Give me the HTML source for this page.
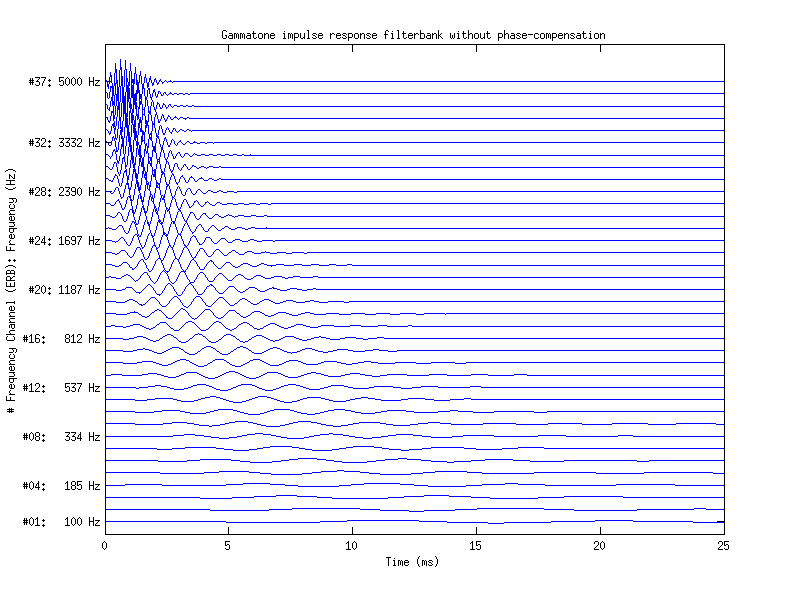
<!DOCTYPE html>
<html lang="en"><head><meta charset="utf-8"><title>Gammatone impulse response filterbank without phase-compensation</title>
<style>
html,body{margin:0;padding:0;background:#fff;overflow:hidden}
#fig{position:relative;width:800px;height:600px;background:#fff;overflow:hidden}
#fig svg{position:absolute;left:0;top:0;display:block}
.t{position:absolute;white-space:pre;font-family:"Liberation Mono",monospace;font-size:10px;line-height:13px;height:13px;color:transparent}
</style></head>
<body>
<div id="fig">
<svg width="800" height="600" viewBox="0 0 800 600" shape-rendering="crispEdges" fill="none" stroke-width="1" stroke-linecap="butt">
<g stroke="#00f"><path d="M155 78.5h1M155 79.5h1M160 79.5h1M106 80.5h1M159 80.5h2M165 80.5h1M170 80.5h1M106 81.5h1M159 81.5h1M161 81.5h1M164 81.5h1M166 81.5h1M168 81.5h4M173 81.5h551M158 82.5h1M162 82.5h2M167 82.5h1M172 82.5h1M157 83.5h2M162 83.5h1M157 84.5h1M111 86.5h1M111 87.5h1M148 88.5h1M148 89.5h1M159 91.5h1M106 92.5h1M160 92.5h1M164 92.5h2M170 92.5h1M160 93.5h1M163 93.5h1M165 93.5h1M169 93.5h3M174 93.5h3M179 93.5h4M185 93.5h3M190 93.5h534M161 94.5h1M163 94.5h1M166 94.5h1M168 94.5h1M172 94.5h2M177 94.5h2M183 94.5h2M188 94.5h2M161 95.5h2M167 95.5h1M156 96.5h1M156 97.5h1M108 98.5h1M152 100.5h1M152 101.5h1M158 103.5h1M163 103.5h1M106 104.5h1M163 104.5h2M169 104.5h2M165 105.5h1M168 105.5h1M170 105.5h1M174 105.5h3M180 105.5h3M186 105.5h2M192 105.5h2M137 106.5h1M165 106.5h1M168 106.5h1M171 106.5h1M173 106.5h1M177 106.5h3M183 106.5h3M188 106.5h4M194 106.5h530M160 107.5h1M166 107.5h2M172 107.5h1M160 108.5h2M166 108.5h1M108 109.5h1M143 109.5h1M112 111.5h1M112 112.5h1M143 114.5h1M162 114.5h1M162 115.5h1M168 115.5h1M168 116.5h2M175 116.5h1M106 117.5h1M167 117.5h1M170 117.5h1M174 117.5h3M180 117.5h3M187 117.5h2M164 118.5h1M167 118.5h1M170 118.5h1M173 118.5h1M177 118.5h1M179 118.5h1M183 118.5h4M189 118.5h535M160 119.5h1M164 119.5h1M166 119.5h1M171 119.5h2M178 119.5h1M185 119.5h1M108 120.5h1M160 120.5h1M165 120.5h2M108 121.5h2M159 121.5h1M165 121.5h1M109 122.5h1M159 122.5h1M153 123.5h1M112 124.5h1M153 124.5h1M112 125.5h1M160 125.5h1M167 127.5h1M166 128.5h1M168 128.5h1M173 128.5h2M106 129.5h1M166 129.5h1M168 129.5h1M173 129.5h1M175 129.5h1M180 129.5h2M187 129.5h2M107 130.5h1M169 130.5h1M172 130.5h1M175 130.5h1M179 130.5h1M182 130.5h2M186 130.5h1M189 130.5h2M192 130.5h532M108 131.5h1M169 131.5h1M172 131.5h1M176 131.5h1M178 131.5h1M184 131.5h2M191 131.5h1M108 132.5h1M170 132.5h2M177 132.5h1M109 133.5h1M150 133.5h1M163 133.5h2M171 133.5h1M109 134.5h1M150 134.5h1M163 134.5h2M113 136.5h1M113 137.5h1M165 137.5h1M116 138.5h1M165 138.5h1M116 139.5h1M172 139.5h1M143 140.5h1M173 140.5h1M180 140.5h1M106 141.5h1M179 141.5h2M187 141.5h2M194 141.5h1M107 142.5h1M178 142.5h1M181 142.5h1M186 142.5h1M189 142.5h1M193 142.5h4M200 142.5h5M207 142.5h6M214 142.5h510M108 143.5h1M170 143.5h1M177 143.5h1M182 143.5h1M185 143.5h1M190 143.5h3M197 143.5h3M205 143.5h2M213 143.5h1M108 144.5h1M170 144.5h1M175 144.5h1M177 144.5h1M183 144.5h2M109 145.5h2M168 145.5h2M176 145.5h1M168 146.5h2M114 149.5h1M113 150.5h2M117 150.5h1M170 150.5h1M113 151.5h1M117 151.5h1M169 151.5h1M169 152.5h1M178 152.5h2M177 153.5h1M179 153.5h1M185 153.5h3M194 153.5h1M106 154.5h2M172 154.5h1M176 154.5h1M180 154.5h1M184 154.5h1M188 154.5h1M193 154.5h1M195 154.5h2M201 154.5h4M209 154.5h4M217 154.5h4M225 154.5h4M233 154.5h4M242 154.5h2M250 154.5h1M108 155.5h1M172 155.5h1M176 155.5h1M180 155.5h1M184 155.5h1M189 155.5h1M192 155.5h1M197 155.5h4M205 155.5h4M213 155.5h4M221 155.5h4M229 155.5h4M237 155.5h5M244 155.5h480M109 156.5h1M111 156.5h1M175 156.5h1M181 156.5h1M183 156.5h1M190 156.5h2M110 157.5h1M123 157.5h1M149 157.5h1M167 157.5h1M175 157.5h1M182 157.5h1M110 158.5h1M123 158.5h1M165 158.5h1M167 158.5h1M174 158.5h1M158 159.5h1M165 159.5h1M158 161.5h1M167 161.5h1M114 162.5h2M114 163.5h1M175 163.5h2M184 164.5h2M126 165.5h1M183 165.5h1M185 165.5h1M192 165.5h2M106 166.5h2M126 166.5h1M183 166.5h1M186 166.5h1M192 166.5h1M194 166.5h2M201 166.5h3M209 166.5h4M219 166.5h2M108 167.5h1M112 167.5h1M178 167.5h1M182 167.5h1M187 167.5h1M191 167.5h1M196 167.5h1M199 167.5h2M204 167.5h2M207 167.5h2M213 167.5h6M221 167.5h503M109 168.5h1M112 168.5h1M178 168.5h1M181 168.5h1M187 168.5h1M190 168.5h1M197 168.5h2M206 168.5h1M110 169.5h2M170 169.5h1M179 169.5h1M181 169.5h1M188 169.5h2M125 170.5h1M153 170.5h1M170 170.5h1M172 170.5h1M180 170.5h1M124 171.5h2M171 171.5h2M118 172.5h1M124 172.5h1M163 172.5h1M171 172.5h1M118 173.5h1M163 173.5h1M172 173.5h1M115 174.5h1M119 174.5h1M172 174.5h2M115 175.5h2M119 175.5h1M171 175.5h1M173 175.5h1M182 175.5h1M114 176.5h1M171 176.5h1M181 176.5h2M191 176.5h1M114 177.5h1M180 177.5h1M183 177.5h1M190 177.5h3M201 177.5h1M106 178.5h2M113 178.5h1M180 178.5h1M184 178.5h1M189 178.5h1M193 178.5h1M199 178.5h4M209 178.5h3M219 178.5h2M108 179.5h1M113 179.5h1M184 179.5h1M189 179.5h1M194 179.5h1M198 179.5h1M203 179.5h1M208 179.5h1M212 179.5h2M217 179.5h2M221 179.5h503M109 180.5h2M112 180.5h1M185 180.5h1M188 180.5h1M194 180.5h1M197 180.5h1M204 180.5h4M214 180.5h3M111 181.5h2M147 181.5h1M185 181.5h1M188 181.5h1M195 181.5h2M157 182.5h1M176 182.5h1M178 182.5h1M186 182.5h2M126 183.5h1M157 183.5h2M176 183.5h2M126 184.5h1M158 184.5h1M168 184.5h1M177 184.5h1M168 185.5h1M120 186.5h1M178 186.5h1M116 187.5h2M158 187.5h1M177 187.5h1M179 187.5h1M115 188.5h1M177 188.5h1M179 188.5h1M188 188.5h2M115 189.5h1M148 189.5h1M176 189.5h1M180 189.5h1M187 189.5h1M190 189.5h1M198 189.5h2M114 190.5h1M176 190.5h1M180 190.5h1M186 190.5h1M190 190.5h1M197 190.5h1M200 190.5h1M208 190.5h3M219 190.5h2M106 191.5h4M114 191.5h1M186 191.5h1M191 191.5h1M196 191.5h1M201 191.5h1M207 191.5h1M211 191.5h2M217 191.5h2M221 191.5h2M227 191.5h7M237 191.5h487M110 192.5h1M113 192.5h1M191 192.5h1M196 192.5h1M202 192.5h1M206 192.5h1M213 192.5h4M223 192.5h4M234 192.5h3M111 193.5h2M192 193.5h1M195 193.5h1M203 193.5h3M139 194.5h1M151 194.5h1M182 194.5h1M193 194.5h2M162 195.5h1M174 195.5h1M183 195.5h2M128 196.5h2M174 196.5h1M121 197.5h2M129 197.5h1M173 197.5h1M121 198.5h1M162 198.5h1M174 198.5h1M118 199.5h1M162 199.5h1M184 199.5h2M117 200.5h2M132 200.5h1M183 200.5h1M186 200.5h1M196 200.5h1M116 201.5h1M119 201.5h1M152 201.5h1M183 201.5h1M186 201.5h1M194 201.5h2M197 201.5h1M207 201.5h1M115 202.5h1M119 202.5h1M182 202.5h1M187 202.5h1M194 202.5h1M198 202.5h1M205 202.5h2M208 202.5h1M217 202.5h3M106 203.5h4M115 203.5h1M120 203.5h1M182 203.5h1M187 203.5h1M193 203.5h1M198 203.5h1M205 203.5h1M209 203.5h1M216 203.5h1M220 203.5h2M227 203.5h6M238 203.5h6M249 203.5h7M260 203.5h8M271 203.5h453M110 204.5h1M114 204.5h1M120 204.5h1M188 204.5h1M193 204.5h1M199 204.5h1M204 204.5h1M210 204.5h2M215 204.5h1M222 204.5h5M233 204.5h5M244 204.5h5M256 204.5h4M268 204.5h3M111 205.5h3M188 205.5h1M192 205.5h1M200 205.5h1M203 205.5h1M212 205.5h3M142 206.5h1M155 206.5h1M177 206.5h1M189 206.5h1M191 206.5h1M201 206.5h2M124 207.5h1M142 207.5h1M155 207.5h1M177 207.5h1M180 207.5h1M189 207.5h2M122 208.5h1M124 208.5h1M167 208.5h1M178 208.5h1M180 208.5h1M122 209.5h2M130 209.5h2M168 209.5h1M178 209.5h2M129 210.5h1M167 210.5h2M179 210.5h2M129 211.5h1M146 211.5h1M167 211.5h1M178 211.5h1M180 211.5h1M118 212.5h2M134 212.5h1M146 212.5h1M156 212.5h1M181 212.5h1M190 212.5h3M117 213.5h1M120 213.5h1M134 213.5h1M156 213.5h1M181 213.5h1M190 213.5h1M193 213.5h1M203 213.5h3M117 214.5h1M121 214.5h1M189 214.5h1M194 214.5h1M202 214.5h1M205 214.5h1M215 214.5h3M228 214.5h1M106 215.5h4M116 215.5h1M121 215.5h1M189 215.5h1M194 215.5h1M201 215.5h1M206 215.5h1M214 215.5h1M218 215.5h1M226 215.5h2M229 215.5h3M238 215.5h6M251 215.5h5M264 215.5h3M110 216.5h2M115 216.5h1M188 216.5h1M195 216.5h1M200 216.5h1M207 216.5h1M213 216.5h1M219 216.5h2M224 216.5h2M232 216.5h2M235 216.5h3M244 216.5h7M256 216.5h8M267 216.5h457M112 217.5h3M183 217.5h1M188 217.5h1M195 217.5h1M200 217.5h1M208 217.5h1M212 217.5h1M221 217.5h3M234 217.5h1M183 218.5h1M187 218.5h1M196 218.5h1M199 218.5h1M209 218.5h3M123 219.5h1M126 219.5h1M184 219.5h1M187 219.5h1M197 219.5h2M123 220.5h1M126 220.5h1M145 220.5h1M158 220.5h3M184 220.5h1M124 221.5h2M132 221.5h2M145 221.5h1M158 221.5h3M172 221.5h1M185 221.5h1M132 222.5h1M134 222.5h1M162 222.5h1M171 222.5h1M131 223.5h1M134 223.5h1M136 223.5h1M160 223.5h3M171 223.5h1M185 223.5h1M187 223.5h1M131 224.5h1M136 224.5h2M184 224.5h1M187 224.5h1M199 224.5h2M119 225.5h3M184 225.5h1M188 225.5h1M198 225.5h1M201 225.5h1M212 225.5h2M118 226.5h1M122 226.5h1M183 226.5h1M188 226.5h1M197 226.5h1M201 226.5h1M211 226.5h1M214 226.5h1M225 226.5h3M108 227.5h1M117 227.5h1M122 227.5h1M183 227.5h1M189 227.5h1M196 227.5h1M202 227.5h1M210 227.5h1M215 227.5h1M224 227.5h1M228 227.5h1M237 227.5h5M251 227.5h4M266 227.5h1M106 228.5h2M109 228.5h3M116 228.5h1M123 228.5h1M189 228.5h1M196 228.5h1M203 228.5h1M209 228.5h1M216 228.5h1M222 228.5h2M229 228.5h2M235 228.5h2M242 228.5h3M248 228.5h3M255 228.5h469M112 229.5h4M123 229.5h1M190 229.5h1M195 229.5h1M203 229.5h1M208 229.5h1M217 229.5h1M221 229.5h1M231 229.5h4M245 229.5h3M124 230.5h1M190 230.5h1M195 230.5h1M204 230.5h1M208 230.5h1M218 230.5h3M124 231.5h1M128 231.5h1M181 231.5h1M191 231.5h1M194 231.5h1M205 231.5h3M125 232.5h1M128 232.5h1M181 232.5h1M192 232.5h2M126 233.5h2M149 233.5h1M165 233.5h1M178 233.5h1M192 233.5h1M135 234.5h2M138 234.5h1M148 234.5h1M167 234.5h1M178 234.5h2M134 235.5h1M137 235.5h2M140 235.5h1M148 235.5h1M162 235.5h1M165 235.5h3M177 235.5h1M193 235.5h1M133 236.5h1M137 236.5h1M139 236.5h2M153 236.5h1M162 236.5h1M177 236.5h1M192 236.5h1M194 236.5h2M121 237.5h2M133 237.5h1M176 237.5h1M191 237.5h1M195 237.5h1M206 237.5h4M120 238.5h1M123 238.5h1M176 238.5h1M196 238.5h1M205 238.5h1M210 238.5h1M221 238.5h4M119 239.5h1M124 239.5h1M182 239.5h1M196 239.5h1M205 239.5h1M211 239.5h1M220 239.5h1M225 239.5h1M235 239.5h5M250 239.5h4M106 240.5h6M118 240.5h1M124 240.5h1M182 240.5h1M197 240.5h1M204 240.5h1M211 240.5h1M219 240.5h1M226 240.5h1M233 240.5h2M240 240.5h2M248 240.5h2M254 240.5h3M262 240.5h11M275 240.5h449M112 241.5h3M116 241.5h2M125 241.5h1M131 241.5h1M189 241.5h1M197 241.5h1M204 241.5h1M212 241.5h1M218 241.5h1M227 241.5h1M232 241.5h1M242 241.5h6M257 241.5h5M273 241.5h2M115 242.5h1M126 242.5h1M131 242.5h1M189 242.5h1M198 242.5h1M203 242.5h1M213 242.5h1M217 242.5h1M228 242.5h4M126 243.5h1M130 243.5h1M140 243.5h1M188 243.5h1M199 243.5h1M202 243.5h1M214 243.5h3M127 244.5h1M130 244.5h1M140 244.5h1M184 244.5h1M188 244.5h1M199 244.5h3M128 245.5h2M141 245.5h1M144 245.5h1M153 245.5h3M170 245.5h1M173 245.5h1M184 245.5h2M187 245.5h1M141 246.5h1M144 246.5h1M152 246.5h1M155 246.5h1M168 246.5h1M170 246.5h1M173 246.5h1M185 246.5h2M137 247.5h3M142 247.5h2M152 247.5h1M158 247.5h1M168 247.5h1M171 247.5h1M184 247.5h1M186 247.5h1M136 248.5h1M140 248.5h1M142 248.5h1M157 248.5h1M167 248.5h1M183 248.5h1M187 248.5h1M200 248.5h3M136 249.5h1M140 249.5h1M167 249.5h1M183 249.5h1M188 249.5h1M199 249.5h1M203 249.5h1M216 249.5h3M121 250.5h4M135 250.5h1M141 250.5h1M157 250.5h1M188 250.5h1M199 250.5h1M204 250.5h1M215 250.5h1M219 250.5h1M232 250.5h3M120 251.5h1M125 251.5h1M135 251.5h1M141 251.5h1M150 251.5h1M157 251.5h1M189 251.5h1M198 251.5h1M204 251.5h1M214 251.5h1M220 251.5h1M231 251.5h1M235 251.5h1M247 251.5h5M265 251.5h1M106 252.5h6M119 252.5h1M126 252.5h1M134 252.5h1M142 252.5h1M150 252.5h1M189 252.5h1M197 252.5h1M205 252.5h1M213 252.5h1M221 252.5h1M229 252.5h2M236 252.5h2M245 252.5h2M252 252.5h2M261 252.5h4M266 252.5h4M277 252.5h9M292 252.5h12M307 252.5h417M112 253.5h3M117 253.5h2M127 253.5h1M134 253.5h1M142 253.5h1M181 253.5h1M190 253.5h1M197 253.5h1M206 253.5h1M213 253.5h1M222 253.5h1M228 253.5h1M238 253.5h1M244 253.5h1M254 253.5h7M270 253.5h7M286 253.5h6M304 253.5h3M115 254.5h2M127 254.5h1M133 254.5h1M181 254.5h1M190 254.5h1M196 254.5h1M206 254.5h1M212 254.5h1M223 254.5h1M227 254.5h1M239 254.5h5M128 255.5h1M133 255.5h1M180 255.5h1M191 255.5h1M196 255.5h1M207 255.5h1M211 255.5h1M224 255.5h3M129 256.5h1M132 256.5h1M148 256.5h1M164 256.5h1M180 256.5h1M191 256.5h1M195 256.5h1M208 256.5h3M130 257.5h2M144 257.5h1M148 257.5h1M164 257.5h1M179 257.5h1M192 257.5h1M194 257.5h2M144 258.5h1M147 258.5h1M158 258.5h3M163 258.5h1M176 258.5h1M179 258.5h1M193 258.5h1M141 259.5h2M145 259.5h2M157 259.5h1M160 259.5h1M163 259.5h1M174 259.5h1M177 259.5h1M192 259.5h2M140 260.5h1M143 260.5h1M156 260.5h1M162 260.5h1M173 260.5h1M191 260.5h1M194 260.5h1M210 260.5h2M139 261.5h1M143 261.5h1M173 261.5h1M190 261.5h1M195 261.5h1M209 261.5h1M211 261.5h2M123 262.5h4M138 262.5h1M144 262.5h1M172 262.5h1M179 262.5h1M190 262.5h1M196 262.5h1M208 262.5h1M213 262.5h1M226 262.5h4M122 263.5h1M127 263.5h1M138 263.5h1M145 263.5h1M162 263.5h1M172 263.5h1M179 263.5h1M189 263.5h1M196 263.5h1M207 263.5h1M213 263.5h1M225 263.5h1M230 263.5h1M243 263.5h5M261 263.5h3M106 264.5h6M121 264.5h1M128 264.5h1M137 264.5h1M145 264.5h1M154 264.5h1M162 264.5h1M189 264.5h1M197 264.5h1M206 264.5h1M214 264.5h1M224 264.5h1M231 264.5h1M241 264.5h2M248 264.5h2M259 264.5h2M264 264.5h3M276 264.5h8M294 264.5h8M311 264.5h8M329 264.5h7M347 264.5h5M112 265.5h3M119 265.5h2M129 265.5h1M137 265.5h1M154 265.5h1M188 265.5h1M197 265.5h1M206 265.5h1M215 265.5h1M223 265.5h1M232 265.5h1M240 265.5h1M250 265.5h2M257 265.5h2M267 265.5h9M284 265.5h10M302 265.5h9M319 265.5h10M336 265.5h11M352 265.5h372M115 266.5h4M129 266.5h1M136 266.5h1M153 266.5h1M188 266.5h1M198 266.5h1M205 266.5h1M216 266.5h1M222 266.5h1M233 266.5h2M238 266.5h2M252 266.5h5M271 266.5h1M130 267.5h2M135 267.5h1M153 267.5h1M170 267.5h1M181 267.5h1M187 267.5h1M199 267.5h1M204 267.5h1M217 267.5h1M221 267.5h1M235 267.5h3M132 268.5h1M134 268.5h1M147 268.5h1M152 268.5h1M164 268.5h1M170 268.5h1M181 268.5h1M187 268.5h1M199 268.5h1M204 268.5h1M218 268.5h3M132 269.5h2M148 269.5h1M152 269.5h1M164 269.5h1M169 269.5h1M182 269.5h1M186 269.5h1M200 269.5h4M148 270.5h1M151 270.5h1M163 270.5h1M165 270.5h1M169 270.5h1M183 270.5h1M185 270.5h1M149 271.5h2M162 271.5h1M164 271.5h1M166 271.5h3M181 271.5h5M144 272.5h3M161 272.5h1M165 272.5h1M167 272.5h1M180 272.5h1M184 272.5h1M200 272.5h3M143 273.5h1M147 273.5h1M160 273.5h1M166 273.5h1M179 273.5h1M185 273.5h1M199 273.5h1M203 273.5h1M219 273.5h3M126 274.5h2M142 274.5h1M147 274.5h1M160 274.5h1M167 274.5h1M179 274.5h1M185 274.5h1M198 274.5h1M204 274.5h1M218 274.5h1M222 274.5h1M238 274.5h3M124 275.5h2M128 275.5h2M141 275.5h1M148 275.5h1M159 275.5h1M167 275.5h1M178 275.5h1M186 275.5h1M197 275.5h1M205 275.5h1M217 275.5h1M223 275.5h1M236 275.5h2M241 275.5h2M256 275.5h5M109 276.5h2M122 276.5h2M130 276.5h1M140 276.5h1M149 276.5h1M159 276.5h1M178 276.5h1M186 276.5h1M197 276.5h1M205 276.5h1M216 276.5h1M224 276.5h1M235 276.5h1M243 276.5h1M254 276.5h2M261 276.5h2M274 276.5h8M293 276.5h7M313 276.5h5M106 277.5h3M111 277.5h5M121 277.5h1M131 277.5h1M140 277.5h1M149 277.5h1M158 277.5h1M177 277.5h1M187 277.5h1M196 277.5h1M206 277.5h1M215 277.5h1M225 277.5h1M234 277.5h1M244 277.5h1M253 277.5h1M263 277.5h2M271 277.5h3M282 277.5h3M288 277.5h5M300 277.5h13M318 277.5h406M116 278.5h5M132 278.5h1M139 278.5h1M150 278.5h1M158 278.5h1M177 278.5h1M187 278.5h1M196 278.5h1M207 278.5h1M214 278.5h1M226 278.5h1M233 278.5h1M245 278.5h2M251 278.5h2M265 278.5h6M285 278.5h3M133 279.5h1M138 279.5h1M150 279.5h1M157 279.5h1M169 279.5h1M176 279.5h1M188 279.5h1M195 279.5h1M207 279.5h1M214 279.5h1M227 279.5h1M232 279.5h1M247 279.5h4M134 280.5h1M136 280.5h2M151 280.5h1M157 280.5h1M169 280.5h1M176 280.5h1M189 280.5h1M194 280.5h1M208 280.5h1M213 280.5h1M228 280.5h4M135 281.5h1M152 281.5h1M156 281.5h1M170 281.5h1M175 281.5h1M189 281.5h1M194 281.5h1M209 281.5h4M153 282.5h1M155 282.5h1M171 282.5h1M174 282.5h1M190 282.5h4M154 283.5h1M168 283.5h2M172 283.5h2M189 283.5h2M148 284.5h2M167 284.5h1M170 284.5h1M188 284.5h1M191 284.5h1M210 284.5h2M147 285.5h1M150 285.5h1M166 285.5h1M171 285.5h1M187 285.5h1M192 285.5h1M209 285.5h1M211 285.5h2M146 286.5h1M151 286.5h1M165 286.5h1M172 286.5h1M186 286.5h1M193 286.5h1M207 286.5h2M213 286.5h1M229 286.5h5M126 287.5h6M145 287.5h1M152 287.5h1M165 287.5h1M173 287.5h1M185 287.5h1M193 287.5h1M206 287.5h1M214 287.5h1M228 287.5h1M234 287.5h1M249 287.5h6M272 287.5h2M125 288.5h1M132 288.5h1M144 288.5h1M153 288.5h1M164 288.5h1M173 288.5h1M185 288.5h1M194 288.5h1M206 288.5h1M215 288.5h1M227 288.5h1M235 288.5h1M248 288.5h1M255 288.5h2M269 288.5h3M273 288.5h4M290 288.5h7M313 288.5h3M106 289.5h10M122 289.5h3M133 289.5h1M143 289.5h1M153 289.5h1M164 289.5h1M174 289.5h1M184 289.5h1M195 289.5h1M205 289.5h1M215 289.5h1M226 289.5h1M236 289.5h1M246 289.5h2M257 289.5h1M267 289.5h2M277 289.5h3M287 289.5h3M297 289.5h5M307 289.5h6M316 289.5h408M116 290.5h6M134 290.5h1M142 290.5h1M154 290.5h1M163 290.5h1M174 290.5h1M184 290.5h1M195 290.5h1M204 290.5h1M216 290.5h1M225 290.5h1M237 290.5h1M245 290.5h1M258 290.5h2M265 290.5h2M280 290.5h7M302 290.5h5M135 291.5h1M141 291.5h1M155 291.5h1M162 291.5h1M175 291.5h1M183 291.5h1M196 291.5h1M204 291.5h1M217 291.5h1M224 291.5h1M238 291.5h2M243 291.5h2M260 291.5h5M136 292.5h5M155 292.5h1M162 292.5h1M176 292.5h1M182 292.5h1M197 292.5h1M203 292.5h1M218 292.5h1M223 292.5h1M240 292.5h3M139 293.5h1M156 293.5h1M161 293.5h1M176 293.5h1M182 293.5h1M197 293.5h1M202 293.5h1M219 293.5h4M157 294.5h4M177 294.5h1M181 294.5h1M198 294.5h4M159 295.5h1M178 295.5h3M174 296.5h3M196 296.5h4M151 297.5h4M173 297.5h1M177 297.5h1M195 297.5h1M200 297.5h1M219 297.5h4M150 298.5h1M155 298.5h1M172 298.5h1M178 298.5h1M194 298.5h1M201 298.5h1M218 298.5h1M223 298.5h1M242 298.5h3M129 299.5h4M149 299.5h1M156 299.5h1M171 299.5h1M179 299.5h1M193 299.5h1M202 299.5h1M217 299.5h1M224 299.5h1M240 299.5h2M245 299.5h2M264 299.5h5M127 300.5h2M133 300.5h2M148 300.5h1M157 300.5h1M170 300.5h1M180 300.5h1M193 300.5h1M202 300.5h1M216 300.5h1M225 300.5h1M239 300.5h1M247 300.5h1M262 300.5h2M269 300.5h2M286 300.5h7M310 300.5h4M106 301.5h10M125 301.5h2M135 301.5h2M147 301.5h1M158 301.5h1M169 301.5h1M180 301.5h1M192 301.5h1M203 301.5h1M215 301.5h1M226 301.5h1M238 301.5h1M248 301.5h2M260 301.5h2M271 301.5h2M283 301.5h3M293 301.5h3M305 301.5h5M314 301.5h5M328 301.5h16M349 301.5h375M116 302.5h9M137 302.5h1M146 302.5h1M159 302.5h1M169 302.5h1M181 302.5h1M191 302.5h1M204 302.5h1M214 302.5h1M227 302.5h1M237 302.5h1M250 302.5h1M259 302.5h1M273 302.5h2M280 302.5h3M296 302.5h9M319 302.5h9M344 302.5h5M138 303.5h1M145 303.5h1M159 303.5h1M168 303.5h1M182 303.5h1M191 303.5h1M205 303.5h1M213 303.5h1M228 303.5h1M235 303.5h2M251 303.5h2M257 303.5h2M275 303.5h5M139 304.5h3M143 304.5h2M160 304.5h1M167 304.5h1M182 304.5h1M190 304.5h1M205 304.5h1M212 304.5h1M229 304.5h1M234 304.5h1M253 304.5h4M141 305.5h2M161 305.5h1M166 305.5h1M183 305.5h1M189 305.5h1M206 305.5h2M211 305.5h1M230 305.5h4M162 306.5h4M184 306.5h2M188 306.5h1M208 306.5h3M186 307.5h2M181 308.5h2M157 309.5h2M180 309.5h1M183 309.5h2M205 309.5h5M155 310.5h2M159 310.5h2M179 310.5h1M185 310.5h1M204 310.5h1M210 310.5h1M229 310.5h6M134 311.5h1M154 311.5h1M161 311.5h1M178 311.5h1M186 311.5h1M203 311.5h1M211 311.5h1M228 311.5h1M235 311.5h1M254 311.5h6M130 312.5h8M152 312.5h2M162 312.5h1M177 312.5h1M187 312.5h1M202 312.5h1M212 312.5h1M227 312.5h1M236 312.5h1M252 312.5h2M260 312.5h2M278 312.5h8M305 312.5h5M106 313.5h10M127 313.5h3M138 313.5h1M151 313.5h1M163 313.5h1M176 313.5h1M188 313.5h1M201 313.5h1M213 313.5h1M226 313.5h1M237 313.5h2M251 313.5h1M262 313.5h2M276 313.5h2M286 313.5h3M301 313.5h4M310 313.5h4M326 313.5h13M351 313.5h14M376 313.5h14M400 313.5h16M424 313.5h21M446 313.5h278M116 314.5h11M139 314.5h2M150 314.5h1M164 314.5h1M175 314.5h1M188 314.5h1M200 314.5h1M213 314.5h1M225 314.5h1M239 314.5h1M250 314.5h1M264 314.5h1M274 314.5h2M289 314.5h3M298 314.5h3M314 314.5h12M339 314.5h12M365 314.5h11M390 314.5h10M416 314.5h8M445 314.5h1M141 315.5h1M149 315.5h1M165 315.5h1M174 315.5h1M189 315.5h1M199 315.5h1M214 315.5h1M224 315.5h1M240 315.5h1M248 315.5h2M265 315.5h3M271 315.5h3M292 315.5h6M142 316.5h3M147 316.5h2M166 316.5h1M173 316.5h1M190 316.5h1M198 316.5h1M215 316.5h1M223 316.5h1M241 316.5h2M246 316.5h2M268 316.5h3M145 317.5h2M166 317.5h2M172 317.5h1M191 317.5h1M197 317.5h1M216 317.5h2M221 317.5h2M243 317.5h3M168 318.5h4M192 318.5h2M195 318.5h2M218 318.5h3M194 319.5h1M188 321.5h4M216 321.5h3M160 322.5h6M186 322.5h2M192 322.5h2M214 322.5h2M219 322.5h2M243 322.5h4M159 323.5h1M166 323.5h1M185 323.5h1M194 323.5h1M213 323.5h1M221 323.5h1M241 323.5h2M247 323.5h2M270 323.5h5M133 324.5h7M157 324.5h2M167 324.5h1M184 324.5h1M195 324.5h1M212 324.5h1M222 324.5h1M239 324.5h2M249 324.5h1M268 324.5h2M275 324.5h2M296 324.5h7M111 325.5h4M130 325.5h3M140 325.5h2M156 325.5h1M168 325.5h1M183 325.5h1M196 325.5h1M211 325.5h1M223 325.5h1M238 325.5h1M250 325.5h2M266 325.5h2M277 325.5h2M294 325.5h2M303 325.5h3M321 325.5h13M350 325.5h11M378 325.5h9M408 325.5h4M106 326.5h5M115 326.5h8M126 326.5h4M142 326.5h2M155 326.5h1M169 326.5h1M182 326.5h1M197 326.5h1M210 326.5h1M224 326.5h1M237 326.5h1M252 326.5h1M264 326.5h2M279 326.5h2M291 326.5h3M306 326.5h4M318 326.5h3M334 326.5h16M361 326.5h17M387 326.5h21M412 326.5h312M123 327.5h3M144 327.5h2M153 327.5h2M170 327.5h1M181 327.5h1M198 327.5h1M209 327.5h1M225 327.5h1M236 327.5h1M253 327.5h1M263 327.5h1M281 327.5h3M288 327.5h3M310 327.5h8M146 328.5h3M151 328.5h2M171 328.5h2M180 328.5h1M199 328.5h1M208 328.5h1M226 328.5h2M234 328.5h2M254 328.5h3M260 328.5h3M284 328.5h4M149 329.5h2M173 329.5h1M179 329.5h1M200 329.5h1M206 329.5h2M228 329.5h2M232 329.5h2M257 329.5h3M174 330.5h5M201 330.5h5M230 330.5h2M198 333.5h1M167 334.5h4M195 334.5h3M199 334.5h3M226 334.5h5M165 335.5h2M171 335.5h2M194 335.5h1M202 335.5h1M224 335.5h2M231 335.5h2M256 335.5h6M137 336.5h6M163 336.5h2M173 336.5h1M193 336.5h1M203 336.5h2M223 336.5h1M233 336.5h2M254 336.5h2M262 336.5h2M285 336.5h9M319 336.5h2M134 337.5h3M143 337.5h3M162 337.5h1M174 337.5h2M192 337.5h1M205 337.5h1M222 337.5h1M235 337.5h1M252 337.5h2M264 337.5h2M283 337.5h2M294 337.5h2M314 337.5h5M321 337.5h5M345 337.5h11M377 337.5h7M106 338.5h17M129 338.5h5M146 338.5h2M160 338.5h2M176 338.5h1M190 338.5h2M206 338.5h1M221 338.5h1M236 338.5h1M251 338.5h1M266 338.5h2M281 338.5h2M296 338.5h3M311 338.5h3M326 338.5h4M340 338.5h5M356 338.5h7M368 338.5h9M384 338.5h340M123 339.5h6M148 339.5h2M159 339.5h1M177 339.5h1M189 339.5h1M207 339.5h1M219 339.5h2M237 339.5h2M249 339.5h2M268 339.5h2M279 339.5h2M299 339.5h3M307 339.5h4M330 339.5h10M363 339.5h5M150 340.5h3M156 340.5h3M178 340.5h1M188 340.5h1M208 340.5h1M218 340.5h1M239 340.5h1M248 340.5h1M270 340.5h3M275 340.5h4M302 340.5h5M153 341.5h3M179 341.5h2M186 341.5h2M209 341.5h2M216 341.5h2M240 341.5h3M245 341.5h3M273 341.5h2M181 342.5h5M211 342.5h5M243 342.5h2M206 346.5h5M240 346.5h3M172 347.5h7M204 347.5h2M211 347.5h2M237 347.5h3M243 347.5h3M273 347.5h4M143 348.5h2M170 348.5h2M179 348.5h2M202 348.5h2M213 348.5h2M236 348.5h1M246 348.5h2M270 348.5h3M277 348.5h3M305 348.5h7M137 349.5h6M145 349.5h4M168 349.5h2M181 349.5h2M201 349.5h1M215 349.5h1M234 349.5h2M248 349.5h1M268 349.5h2M280 349.5h2M302 349.5h3M312 349.5h3M337 349.5h11M373 349.5h6M106 350.5h17M133 350.5h4M149 350.5h3M166 350.5h2M183 350.5h1M200 350.5h1M216 350.5h1M233 350.5h1M249 350.5h2M266 350.5h2M282 350.5h2M300 350.5h2M315 350.5h3M333 350.5h4M348 350.5h5M365 350.5h8M379 350.5h9M397 350.5h327M123 351.5h10M152 351.5h2M164 351.5h2M184 351.5h1M198 351.5h2M217 351.5h2M231 351.5h2M251 351.5h1M264 351.5h2M284 351.5h3M297 351.5h3M318 351.5h5M328 351.5h5M353 351.5h12M388 351.5h9M154 352.5h3M162 352.5h2M185 352.5h2M197 352.5h1M219 352.5h1M230 352.5h1M252 352.5h2M262 352.5h2M287 352.5h4M292 352.5h5M323 352.5h5M157 353.5h5M187 353.5h2M195 353.5h2M220 353.5h2M228 353.5h2M254 353.5h8M291 353.5h1M189 354.5h6M222 354.5h6M180 359.5h6M215 359.5h9M253 359.5h7M177 360.5h3M186 360.5h3M213 360.5h2M224 360.5h2M250 360.5h3M260 360.5h2M289 360.5h9M142 361.5h11M175 361.5h2M189 361.5h1M212 361.5h1M226 361.5h1M249 361.5h1M262 361.5h2M286 361.5h3M298 361.5h3M324 361.5h13M364 361.5h7M106 362.5h17M137 362.5h5M153 362.5h3M173 362.5h2M190 362.5h2M210 362.5h2M227 362.5h2M247 362.5h2M264 362.5h2M284 362.5h2M301 362.5h2M321 362.5h3M337 362.5h4M358 362.5h6M371 362.5h7M395 362.5h21M431 362.5h24M466 362.5h258M123 363.5h14M156 363.5h3M171 363.5h2M192 363.5h2M208 363.5h2M229 363.5h1M245 363.5h2M266 363.5h2M282 363.5h2M303 363.5h3M318 363.5h3M341 363.5h5M352 363.5h6M378 363.5h17M416 363.5h15M455 363.5h11M159 364.5h3M168 364.5h3M194 364.5h2M207 364.5h1M230 364.5h2M243 364.5h2M268 364.5h2M279 364.5h3M306 364.5h12M346 364.5h6M162 365.5h6M196 365.5h2M204 365.5h3M232 365.5h3M241 365.5h2M270 365.5h9M198 366.5h6M235 366.5h6M229 371.5h6M186 372.5h11M226 372.5h3M235 372.5h3M267 372.5h11M311 372.5h5M148 373.5h9M184 373.5h2M197 373.5h2M224 373.5h2M238 373.5h2M265 373.5h2M278 373.5h3M307 373.5h4M316 373.5h5M350 373.5h10M111 374.5h11M142 374.5h6M157 374.5h4M181 374.5h3M199 374.5h2M222 374.5h2M240 374.5h2M263 374.5h2M281 374.5h2M304 374.5h3M321 374.5h3M345 374.5h5M360 374.5h5M387 374.5h20M429 374.5h18M471 374.5h17M514 374.5h13M106 375.5h5M122 375.5h20M161 375.5h3M179 375.5h2M201 375.5h2M220 375.5h2M242 375.5h2M261 375.5h2M283 375.5h2M301 375.5h3M324 375.5h4M341 375.5h4M365 375.5h7M380 375.5h7M407 375.5h22M447 375.5h24M488 375.5h26M527 375.5h197M164 376.5h4M176 376.5h3M203 376.5h2M218 376.5h2M244 376.5h2M259 376.5h2M285 376.5h3M298 376.5h3M328 376.5h13M372 376.5h8M168 377.5h8M205 377.5h3M215 377.5h3M246 377.5h3M256 377.5h3M288 377.5h10M208 378.5h7M249 378.5h7M197 384.5h9M241 384.5h11M288 384.5h8M155 385.5h6M193 385.5h4M206 385.5h3M238 385.5h3M252 385.5h3M284 385.5h4M296 385.5h4M331 385.5h13M148 386.5h7M161 386.5h6M191 386.5h2M209 386.5h3M236 386.5h2M255 386.5h2M281 386.5h3M300 386.5h3M328 386.5h3M344 386.5h4M374 386.5h19M421 386.5h17M470 386.5h11M106 387.5h30M139 387.5h9M167 387.5h3M188 387.5h3M212 387.5h2M233 387.5h3M257 387.5h2M279 387.5h2M303 387.5h3M324 387.5h4M348 387.5h5M369 387.5h5M393 387.5h8M412 387.5h9M438 387.5h32M481 387.5h243M136 388.5h3M170 388.5h4M184 388.5h4M214 388.5h2M231 388.5h2M259 388.5h3M276 388.5h3M306 388.5h3M320 388.5h4M353 388.5h16M401 388.5h11M174 389.5h10M216 389.5h4M228 389.5h3M262 389.5h3M273 389.5h3M309 389.5h11M220 390.5h8M265 390.5h8M210 396.5h6M258 396.5h9M205 397.5h5M216 397.5h4M255 397.5h3M267 397.5h4M307 397.5h14M361 397.5h7M155 398.5h18M201 398.5h4M220 398.5h3M252 398.5h3M271 398.5h3M303 398.5h4M321 398.5h4M355 398.5h6M368 398.5h7M408 398.5h17M464 398.5h7M106 399.5h29M147 399.5h8M173 399.5h4M198 399.5h3M223 399.5h3M249 399.5h3M274 399.5h3M300 399.5h3M325 399.5h4M350 399.5h5M375 399.5h6M401 399.5h7M425 399.5h9M450 399.5h14M471 399.5h253M135 400.5h12M177 400.5h4M194 400.5h4M226 400.5h3M246 400.5h3M277 400.5h3M297 400.5h3M329 400.5h4M346 400.5h4M381 400.5h20M434 400.5h16M181 401.5h13M229 401.5h4M242 401.5h4M280 401.5h4M292 401.5h5M333 401.5h13M233 402.5h9M284 402.5h8M218 409.5h15M274 409.5h16M334 409.5h11M162 410.5h18M214 410.5h4M233 410.5h4M270 410.5h4M290 410.5h4M328 410.5h6M345 410.5h6M387 410.5h19M450 410.5h8M106 411.5h29M154 411.5h8M180 411.5h5M210 411.5h4M237 411.5h3M267 411.5h3M294 411.5h3M324 411.5h4M351 411.5h4M381 411.5h6M406 411.5h8M438 411.5h12M458 411.5h15M494 411.5h40M547 411.5h177M135 412.5h19M185 412.5h5M206 412.5h4M240 412.5h4M264 412.5h3M297 412.5h4M320 412.5h4M355 412.5h6M375 412.5h6M414 412.5h24M473 412.5h21M534 412.5h13M190 413.5h16M244 413.5h4M260 413.5h4M301 413.5h6M315 413.5h5M361 413.5h14M248 414.5h12M307 414.5h8M235 421.5h13M298 421.5h13M172 422.5h15M229 422.5h6M248 422.5h5M293 422.5h5M311 422.5h6M359 422.5h21M428 422.5h12M106 423.5h29M163 423.5h9M187 423.5h7M225 423.5h4M253 423.5h4M289 423.5h4M317 423.5h4M353 423.5h6M380 423.5h6M418 423.5h10M440 423.5h11M483 423.5h33M548 423.5h34M612 423.5h36M676 423.5h40M135 424.5h28M194 424.5h5M220 424.5h5M257 424.5h4M285 424.5h4M321 424.5h5M348 424.5h5M386 424.5h7M410 424.5h8M451 424.5h32M516 424.5h32M582 424.5h30M648 424.5h28M716 424.5h8M199 425.5h10M212 425.5h8M261 425.5h5M280 425.5h5M326 425.5h7M341 425.5h7M393 425.5h17M209 426.5h3M266 426.5h14M333 426.5h8M255 433.5h8M329 433.5h4M184 434.5h11M247 434.5h8M263 434.5h8M320 434.5h9M333 434.5h10M396 434.5h17M173 435.5h11M195 435.5h9M242 435.5h5M271 435.5h5M314 435.5h6M343 435.5h6M388 435.5h8M413 435.5h9M463 435.5h31M538 435.5h28M618 435.5h15M106 436.5h67M204 436.5h7M237 436.5h5M276 436.5h5M309 436.5h5M349 436.5h6M381 436.5h7M422 436.5h9M452 436.5h11M494 436.5h44M566 436.5h52M633 436.5h91M211 437.5h8M229 437.5h8M281 437.5h6M304 437.5h5M355 437.5h8M372 437.5h9M431 437.5h21M219 438.5h10M287 438.5h17M363 438.5h9M270 446.5h22M353 446.5h21M185 447.5h31M263 447.5h7M292 447.5h7M346 447.5h7M374 447.5h8M431 447.5h33M518 447.5h26M106 448.5h51M172 448.5h13M216 448.5h8M257 448.5h6M299 448.5h6M339 448.5h7M382 448.5h7M422 448.5h9M464 448.5h12M502 448.5h16M544 448.5h180M157 449.5h15M224 449.5h9M249 449.5h8M305 449.5h7M332 449.5h7M389 449.5h12M409 449.5h13M476 449.5h26M233 450.5h16M312 450.5h20M401 450.5h8M298 458.5h19M398 458.5h9M200 459.5h31M289 459.5h9M317 459.5h9M385 459.5h13M407 459.5h14M485 459.5h28M106 460.5h52M187 460.5h13M231 460.5h9M281 460.5h8M326 460.5h8M376 460.5h9M421 460.5h10M471 460.5h14M513 460.5h17M564 460.5h73M649 460.5h75M158 461.5h29M240 461.5h10M272 461.5h9M334 461.5h8M367 461.5h9M431 461.5h16M454 461.5h17M530 461.5h34M637 461.5h12M250 462.5h22M342 462.5h25M447 462.5h7M337 470.5h7M219 471.5h30M321 471.5h16M344 471.5h16M435 471.5h32M106 472.5h54M204 472.5h15M249 472.5h11M312 472.5h9M360 472.5h9M423 472.5h12M467 472.5h15M534 472.5h62M644 472.5h69M160 473.5h44M260 473.5h11M302 473.5h10M369 473.5h11M411 473.5h12M482 473.5h52M596 473.5h48M713 473.5h11M271 474.5h31M380 474.5h31M243 483.5h27M364 483.5h36M505 483.5h13M125 484.5h37M226 484.5h17M270 484.5h15M351 484.5h13M400 484.5h14M482 484.5h23M518 484.5h27M616 484.5h59M106 485.5h19M162 485.5h64M285 485.5h13M339 485.5h12M414 485.5h14M466 485.5h16M545 485.5h71M675 485.5h49M298 486.5h41M428 486.5h38M276 495.5h21M424 495.5h25M254 496.5h22M297 496.5h20M404 496.5h20M449 496.5h22M564 496.5h59M106 497.5h94M232 497.5h22M317 497.5h15M388 497.5h16M471 497.5h19M538 497.5h26M623 497.5h101M200 498.5h32M332 498.5h56M490 498.5h48M292 508.5h68M477 508.5h67M694 508.5h12M106 509.5h104M269 509.5h23M360 509.5h20M455 509.5h22M544 509.5h30M637 509.5h57M706 509.5h18M210 510.5h59M380 510.5h29M424 510.5h31M574 510.5h63M409 511.5h15M347 520.5h72M595 520.5h38M106 521.5h120M320 521.5h27M419 521.5h28M551 521.5h44M633 521.5h60M226 522.5h94M447 522.5h41M504 522.5h47M693 522.5h31M488 523.5h16"/><path d="M107.5 82v5M107.5 93v5M107.5 105v4M107.5 117v3M108.5 84v5M109.5 77v7M109.5 92v6M109.5 107v4M110.5 72v5M110.5 86v6M110.5 101v6M110.5 116v5M110.5 131v3M111.5 75v8M111.5 97v4M111.5 111v5M111.5 126v5M111.5 141v4M112.5 83v23M112.5 137v4M112.5 152v4M113.5 86v10M113.5 101v4M113.5 106v15M113.5 123v5M113.5 164v3M114.5 73v13M114.5 95v11M114.5 115v4M114.5 121v6M114.5 128v6M114.5 138v3M115.5 63v10M115.5 83v12M115.5 106v9M115.5 126v4M115.5 134v5M115.5 141v6M115.5 151v3M116.5 69v15M116.5 94v12M116.5 117v9M116.5 147v5M116.5 154v6M116.5 163v4M117.5 80v21M117.5 106v11M117.5 129v9M117.5 160v3M117.5 167v5M117.5 176v3M118.5 87v23M118.5 121v8M118.5 142v8M118.5 161v3M118.5 179v4M118.5 188v3M119.5 70v17M119.5 102v19M119.5 135v7M119.5 156v5M119.5 183v3M119.5 191v3M120.5 59v11M120.5 86v16M120.5 117v12M120.5 130v5M120.5 149v7M120.5 170v4M120.5 194v3M121.5 67v19M121.5 103v14M121.5 127v12M121.5 144v5M121.5 164v6M121.5 183v3M121.5 205v3M122.5 76v27M122.5 121v11M122.5 136v11M122.5 158v6M122.5 178v5M122.5 216v3M123.5 87v34M123.5 138v16M123.5 173v5M123.5 193v4M124.5 70v17M124.5 96v18M124.5 127v11M124.5 154v8M124.5 189v4M125.5 60v10M125.5 92v35M125.5 146v8M125.5 162v7M125.5 185v4M125.5 204v3M126.5 69v23M126.5 113v15M126.5 136v10M126.5 169v7M126.5 200v4M127.5 78v4M127.5 85v32M127.5 118v18M127.5 156v9M127.5 176v9M127.5 197v3M127.5 216v3M128.5 82v20M128.5 125v17M128.5 147v9M128.5 175v5M128.5 183v6M128.5 212v4M129.5 71v15M129.5 88v11M129.5 102v6M129.5 111v14M129.5 132v15M129.5 168v7M129.5 188v7M129.5 228v3M130.5 63v8M130.5 98v15M130.5 137v15M130.5 160v8M130.5 187v3M130.5 195v6M130.5 225v3M131.5 71v27M131.5 104v5M131.5 113v10M131.5 125v12M131.5 145v15M131.5 181v6M131.5 199v7M132.5 79v4M132.5 85v13M132.5 109v16M132.5 152v12M132.5 174v7M132.5 206v7M132.5 238v3M133.5 79v34M133.5 115v5M133.5 124v9M133.5 140v12M133.5 156v7M133.5 164v4M133.5 169v5M133.5 195v5M133.5 210v7M134.5 73v11M134.5 94v11M134.5 120v20M134.5 163v9M134.5 189v6M134.5 217v3M135.5 67v7M135.5 93v16M135.5 116v11M135.5 128v13M135.5 157v8M135.5 169v9M135.5 184v5M135.5 209v3M135.5 220v3M135.5 224v3M136.5 74v11M136.5 90v11M136.5 102v14M136.5 131v7M136.5 141v5M136.5 148v9M136.5 173v11M136.5 205v4M136.5 227v3M137.5 80v14M137.5 114v6M137.5 135v14M137.5 174v5M137.5 180v7M137.5 199v6M137.5 230v4M138.5 82v11M138.5 107v12M138.5 123v12M138.5 142v3M138.5 149v6M138.5 166v8M138.5 182v9M138.5 195v4M138.5 220v4M138.5 237v3M139.5 75v8M139.5 90v19M139.5 119v9M139.5 145v12M139.5 158v8M139.5 187v6M139.5 216v4M139.5 240v3M140.5 71v5M140.5 94v5M140.5 101v4M140.5 117v6M140.5 128v4M140.5 145v17M140.5 185v5M140.5 193v6M140.5 212v4M141.5 76v8M141.5 94v10M141.5 120v12M141.5 136v9M141.5 155v3M141.5 162v5M141.5 178v7M141.5 196v6M141.5 208v4M141.5 232v3M142.5 84v10M142.5 104v16M142.5 130v12M142.5 158v9M142.5 171v7M142.5 200v5M142.5 229v3M143.5 83v6M143.5 131v4M143.5 157v17M143.5 197v5M143.5 205v5M143.5 225v4M143.5 254v3M144.5 77v6M144.5 88v8M144.5 107v9M144.5 132v12M144.5 149v8M144.5 167v4M144.5 174v4M144.5 191v6M144.5 208v5M144.5 222v3M145.5 74v4M145.5 96v11M145.5 116v8M145.5 125v7M145.5 144v7M145.5 171v5M145.5 177v3M145.5 185v6M145.5 211v5M145.5 242v3M146.5 78v5M146.5 97v3M146.5 120v8M146.5 143v3M146.5 151v3M146.5 172v13M146.5 216v4M146.5 239v3M146.5 265v3M147.5 83v5M147.5 90v7M147.5 100v6M147.5 121v5M147.5 146v7M147.5 164v8M147.5 183v6M147.5 206v5M147.5 220v4M147.5 236v3M148.5 82v5M148.5 106v7M148.5 114v8M148.5 125v9M148.5 139v9M148.5 153v11M148.5 182v3M148.5 200v6M148.5 222v4M149.5 78v4M149.5 88v6M149.5 111v3M149.5 134v5M149.5 161v3M149.5 185v6M149.5 196v4M149.5 224v6M149.5 253v3M150.5 76v4M150.5 94v4M150.5 106v9M150.5 137v3M150.5 157v4M150.5 163v3M150.5 181v6M150.5 191v6M150.5 221v3M150.5 230v3M151.5 80v3M151.5 97v3M151.5 102v4M151.5 115v6M151.5 131v10M151.5 157v10M151.5 175v6M151.5 197v4M151.5 217v4M151.5 233v3M151.5 248v3M152.5 83v3M152.5 93v4M152.5 121v10M152.5 141v6M152.5 150v7M152.5 167v8M152.5 195v4M152.5 212v5M152.5 235v3M153.5 82v3M153.5 90v3M153.5 102v5M153.5 146v5M153.5 174v3M153.5 198v6M153.5 209v3M153.5 238v4M154.5 79v3M154.5 89v3M154.5 107v3M154.5 117v11M154.5 146v6M154.5 169v8M154.5 193v5M154.5 204v5M154.5 233v3M154.5 242v4M155.5 92v4M155.5 109v3M155.5 114v3M155.5 128v5M155.5 143v10M155.5 169v11M155.5 188v5M155.5 209v3M155.5 230v3M155.5 261v3M156.5 80v3M156.5 105v4M156.5 112v3M156.5 133v4M156.5 138v5M156.5 153v6M156.5 164v5M156.5 180v8M156.5 208v3M156.5 226v4M156.5 247v3M157.5 94v3M157.5 102v3M157.5 115v4M157.5 135v3M157.5 159v5M157.5 185v3M157.5 211v4M157.5 222v4M158.5 91v3M158.5 119v4M158.5 130v5M158.5 136v3M158.5 207v4M158.5 215v4M158.5 252v3M159.5 104v3M159.5 126v4M159.5 139v5M159.5 157v7M159.5 183v7M159.5 202v5M159.5 219v4M159.5 244v3M159.5 255v4M160.5 144v3M160.5 152v5M160.5 164v5M160.5 178v5M160.5 190v5M160.5 198v4M160.5 240v4M161.5 116v3M161.5 126v3M161.5 147v5M161.5 169v4M161.5 174v4M161.5 195v3M161.5 222v3M161.5 237v3M161.5 260v3M162.5 105v3M162.5 129v4M162.5 145v5M162.5 171v4M162.5 225v3M163.5 115v3M163.5 141v4M163.5 150v3M163.5 196v4M163.5 218v4M163.5 228v7M163.5 265v3M164.5 138v3M164.5 153v5M164.5 168v4M164.5 173v4M164.5 194v4M164.5 199v4M164.5 214v4M164.5 232v3M165.5 130v3M165.5 164v4M165.5 177v5M165.5 190v4M165.5 203v4M165.5 210v4M165.5 253v3M166.5 139v3M166.5 159v5M166.5 182v3M166.5 186v4M166.5 207v3M166.5 234v3M166.5 250v3M167.5 142v3M167.5 184v3M167.5 237v3M168.5 153v4M168.5 162v3M168.5 231v3M168.5 240v3M168.5 276v3M169.5 165v4M169.5 180v4M169.5 186v3M169.5 207v3M169.5 211v3M169.5 227v4M169.5 243v3M170.5 177v3M170.5 189v4M170.5 203v4M170.5 214v4M170.5 224v3M171.5 140v3M171.5 151v3M171.5 193v3M171.5 200v3M171.5 218v3M171.5 264v3M172.5 196v4M172.5 247v3M173.5 156v3M173.5 167v3M173.5 221v3M173.5 250v3M174.5 141v3M174.5 164v3M174.5 176v3M174.5 221v3M174.5 242v3M174.5 253v3M175.5 179v3M175.5 191v4M175.5 199v3M175.5 218v3M175.5 224v3M175.5 239v3M175.5 256v3M176.5 202v4M176.5 215v3M176.5 227v3M177.5 164v3M177.5 212v3M177.5 230v3M178.5 259v3M179.5 179v3M180.5 233v3M180.5 264v3M181.5 191v3M181.5 204v3M181.5 236v3M182.5 214v3M182.5 228v3M182.5 250v3M183.5 241v3M185.5 192v3M186.5 220v3M190.5 238v3"/></g>
<g stroke="#000"><path d="M223 30.5h3M307 30.5h1M386 30.5h2M397 30.5h1M226 31.5h1M284 31.5h1M388 31.5h1M392 31.5h1M458 31.5h1M590 31.5h1M229 33.5h3M235 33.5h1M237 33.5h1M241 33.5h1M243 33.5h1M247 33.5h3M252 33.5h4M259 33.5h3M266 33.5h2M271 33.5h3M283 33.5h1M289 33.5h1M291 33.5h1M295 33.5h3M313 33.5h3M319 33.5h3M332 33.5h2M337 33.5h3M343 33.5h3M349 33.5h3M355 33.5h3M362 33.5h2M367 33.5h3M373 33.5h3M391 33.5h1M402 33.5h4M409 33.5h3M416 33.5h2M421 33.5h3M427 33.5h3M434 33.5h2M441 33.5h1M457 33.5h1M462 33.5h4M470 33.5h2M475 33.5h3M486 33.5h4M499 33.5h3M506 33.5h2M511 33.5h3M517 33.5h3M523 33.5h3M535 33.5h3M541 33.5h3M547 33.5h1M549 33.5h1M553 33.5h3M559 33.5h3M566 33.5h2M571 33.5h3M577 33.5h3M582 33.5h4M589 33.5h1M595 33.5h3M602 33.5h2M265 34.5h1M274 34.5h1M312 34.5h1M316 34.5h1M322 34.5h1M331 34.5h1M334 34.5h1M340 34.5h1M342 34.5h1M346 34.5h1M361 34.5h1M366 34.5h1M370 34.5h1M376 34.5h1M384 34.5h4M412 34.5h1M415 34.5h1M418 34.5h1M433 34.5h1M440 34.5h1M469 34.5h1M505 34.5h1M516 34.5h1M520 34.5h1M526 34.5h1M528 34.5h5M538 34.5h1M562 34.5h1M565 34.5h1M570 34.5h1M574 34.5h1M601 34.5h1M225 35.5h1M229 35.5h3M247 35.5h3M271 35.5h4M313 35.5h2M319 35.5h4M337 35.5h4M343 35.5h2M367 35.5h2M373 35.5h4M409 35.5h4M427 35.5h3M439 35.5h1M511 35.5h3M517 35.5h2M523 35.5h4M559 35.5h4M571 35.5h2M577 35.5h3M228 36.5h1M246 36.5h1M315 36.5h1M345 36.5h1M369 36.5h1M426 36.5h1M440 36.5h1M510 36.5h1M519 36.5h1M573 36.5h1M576 36.5h1M228 37.5h1M246 37.5h1M256 37.5h1M274 37.5h1M295 37.5h3M303 37.5h1M312 37.5h1M316 37.5h1M322 37.5h1M340 37.5h1M342 37.5h1M346 37.5h1M349 37.5h3M366 37.5h1M370 37.5h1M376 37.5h1M406 37.5h1M412 37.5h1M426 37.5h1M441 37.5h1M466 37.5h1M483 37.5h1M490 37.5h1M499 37.5h3M510 37.5h1M516 37.5h1M520 37.5h1M526 37.5h1M538 37.5h1M553 37.5h3M562 37.5h1M570 37.5h1M574 37.5h1M576 37.5h1M586 37.5h1M223 38.5h3M229 38.5h3M247 38.5h3M254 38.5h2M259 38.5h3M271 38.5h3M283 38.5h3M301 38.5h2M307 38.5h3M313 38.5h3M319 38.5h3M337 38.5h3M343 38.5h3M355 38.5h3M367 38.5h3M373 38.5h3M391 38.5h3M397 38.5h3M404 38.5h2M409 38.5h3M421 38.5h3M427 38.5h3M442 38.5h1M451 38.5h1M453 38.5h1M457 38.5h3M464 38.5h2M475 38.5h3M481 38.5h2M488 38.5h2M511 38.5h3M517 38.5h3M523 38.5h3M535 38.5h3M541 38.5h3M559 38.5h3M571 38.5h3M577 38.5h3M584 38.5h2M589 38.5h3M595 38.5h3M106 44.5h618M35 77.5h5M41 77.5h5M60 77.5h4M67 77.5h1M73 77.5h1M79 77.5h1M39 78.5h1M45 78.5h1M66 78.5h1M68 78.5h1M72 78.5h1M74 78.5h1M78 78.5h1M80 78.5h1M38 79.5h1M44 79.5h1M29 80.5h5M37 80.5h1M44 80.5h1M48 80.5h3M61 80.5h2M95 80.5h5M36 81.5h3M43 81.5h1M60 81.5h1M90 81.5h3M98 81.5h1M107 81.5h2M110 81.5h1M29 82.5h5M43 82.5h1M97 82.5h1M96 83.5h1M35 84.5h1M59 84.5h1M66 84.5h1M68 84.5h1M72 84.5h1M74 84.5h1M78 84.5h1M80 84.5h1M95 84.5h1M36 85.5h3M48 85.5h3M60 85.5h3M67 85.5h1M73 85.5h1M79 85.5h1M95 85.5h5M35 138.5h5M42 138.5h3M59 138.5h5M65 138.5h5M71 138.5h5M78 138.5h3M39 139.5h1M41 139.5h1M63 139.5h1M69 139.5h1M75 139.5h1M77 139.5h1M38 140.5h1M41 140.5h1M62 140.5h1M68 140.5h1M74 140.5h1M77 140.5h1M29 141.5h5M37 141.5h1M48 141.5h3M61 141.5h1M67 141.5h1M73 141.5h1M95 141.5h5M36 142.5h3M44 142.5h1M60 142.5h3M66 142.5h3M72 142.5h3M80 142.5h1M90 142.5h3M98 142.5h1M106 142.5h1M108 142.5h3M29 143.5h5M43 143.5h1M79 143.5h1M97 143.5h1M42 144.5h1M78 144.5h1M96 144.5h1M35 145.5h1M41 145.5h1M59 145.5h1M65 145.5h1M71 145.5h1M77 145.5h1M95 145.5h1M36 146.5h3M41 146.5h5M48 146.5h3M60 146.5h3M66 146.5h3M72 146.5h3M77 146.5h5M95 146.5h5M8 169.5h5M6 170.5h2M13 170.5h2M5 171.5h1M15 171.5h1M10 175.5h1M11 176.5h1M12 177.5h1M13 178.5h1M6 180.5h9M6 184.5h9M5 187.5h1M15 187.5h1M36 187.5h3M42 187.5h3M60 187.5h3M65 187.5h5M72 187.5h3M79 187.5h1M6 188.5h2M13 188.5h2M35 188.5h1M59 188.5h1M69 188.5h1M78 188.5h1M80 188.5h1M8 189.5h5M35 189.5h1M59 189.5h1M68 189.5h1M29 190.5h5M48 190.5h3M67 190.5h1M95 190.5h5M38 191.5h1M42 191.5h3M62 191.5h1M66 191.5h3M72 191.5h3M90 191.5h3M98 191.5h1M110 191.5h2M29 192.5h5M37 192.5h1M61 192.5h1M97 192.5h1M36 193.5h1M60 193.5h1M96 193.5h1M35 194.5h1M59 194.5h1M65 194.5h1M71 194.5h1M78 194.5h1M80 194.5h1M95 194.5h1M35 195.5h5M42 195.5h3M48 195.5h3M59 195.5h5M66 195.5h3M72 195.5h3M79 195.5h1M95 195.5h5M9 198.5h7M12 199.5h1M13 200.5h1M13 201.5h1M9 202.5h4M15 202.5h1M10 204.5h1M13 204.5h1M10 208.5h4M10 210.5h5M9 211.5h1M9 212.5h1M10 213.5h1M9 214.5h6M10 216.5h1M13 216.5h1M10 220.5h4M9 222.5h6M13 223.5h1M14 224.5h1M14 225.5h1M9 226.5h5M10 228.5h7M10 232.5h3M10 234.5h1M13 234.5h1M36 236.5h3M66 236.5h3M72 236.5h3M77 236.5h5M35 237.5h1M60 237.5h1M69 237.5h1M81 237.5h1M10 238.5h4M35 238.5h1M43 238.5h1M59 238.5h1M80 238.5h1M29 239.5h5M42 239.5h1M48 239.5h3M80 239.5h1M95 239.5h5M10 240.5h1M38 240.5h1M42 240.5h1M66 240.5h3M72 240.5h3M79 240.5h1M90 240.5h3M98 240.5h1M9 241.5h1M29 241.5h5M37 241.5h1M41 241.5h1M79 241.5h1M97 241.5h1M9 242.5h1M36 242.5h1M41 242.5h5M96 242.5h1M10 243.5h1M35 243.5h1M71 243.5h1M95 243.5h1M9 244.5h6M35 244.5h5M48 244.5h3M59 244.5h5M66 244.5h3M72 244.5h3M95 244.5h5M7 250.5h8M8 260.5h3M13 260.5h3M8 265.5h5M6 266.5h2M13 266.5h2M5 267.5h1M15 267.5h1M7 270.5h3M11 270.5h3M7 273.5h7M7 276.5h3M13 276.5h2M12 277.5h1M11 278.5h1M7 280.5h8M36 285.5h3M43 285.5h1M72 285.5h3M77 285.5h5M7 286.5h7M35 286.5h1M42 286.5h1M44 286.5h1M60 286.5h1M66 286.5h1M81 286.5h1M35 287.5h1M59 287.5h1M65 287.5h1M80 287.5h1M29 288.5h5M48 288.5h3M80 288.5h1M95 288.5h5M5 289.5h1M15 289.5h1M38 289.5h1M72 289.5h3M79 289.5h1M90 289.5h3M98 289.5h1M6 290.5h2M13 290.5h2M29 290.5h5M37 290.5h1M79 290.5h1M97 290.5h1M8 291.5h5M36 291.5h1M96 291.5h1M35 292.5h1M42 292.5h1M44 292.5h1M95 292.5h1M35 293.5h5M43 293.5h1M48 293.5h3M59 293.5h5M65 293.5h5M72 293.5h3M95 293.5h5M6 302.5h8M6 303.5h1M10 306.5h1M13 306.5h1M10 310.5h4M10 312.5h5M9 313.5h1M9 314.5h1M10 315.5h1M9 316.5h6M10 318.5h5M9 319.5h1M9 320.5h1M10 321.5h1M9 322.5h6M10 324.5h4M12 328.5h2M10 330.5h5M9 331.5h1M9 332.5h1M10 333.5h1M6 334.5h9M36 334.5h3M66 334.5h3M78 334.5h3M30 335.5h1M39 335.5h1M72 335.5h1M77 335.5h1M7 336.5h1M13 336.5h1M29 336.5h1M71 336.5h1M77 336.5h1M23 337.5h5M42 337.5h3M95 337.5h5M36 338.5h3M66 338.5h3M80 338.5h1M90 338.5h3M98 338.5h1M23 339.5h5M79 339.5h1M97 339.5h1M7 340.5h7M78 340.5h1M96 340.5h1M77 341.5h1M95 341.5h1M29 342.5h5M36 342.5h3M42 342.5h3M66 342.5h3M71 342.5h5M77 342.5h5M95 342.5h5M9 348.5h7M12 349.5h1M13 350.5h1M13 351.5h1M9 352.5h4M15 352.5h1M10 354.5h1M13 354.5h1M10 358.5h4M10 360.5h5M9 361.5h1M9 362.5h1M10 363.5h1M9 364.5h6M10 366.5h1M13 366.5h1M10 370.5h4M9 372.5h6M13 373.5h1M14 374.5h1M14 375.5h1M9 376.5h5M10 378.5h7M10 382.5h3M36 383.5h3M66 383.5h4M71 383.5h5M77 383.5h5M10 384.5h1M13 384.5h1M30 384.5h1M35 384.5h1M75 384.5h1M81 384.5h1M29 385.5h1M35 385.5h1M74 385.5h1M80 385.5h1M23 386.5h5M42 386.5h3M67 386.5h2M73 386.5h1M80 386.5h1M95 386.5h5M38 387.5h1M66 387.5h1M72 387.5h3M79 387.5h1M90 387.5h3M98 387.5h1M10 388.5h4M23 388.5h5M37 388.5h1M79 388.5h1M97 388.5h1M36 389.5h1M96 389.5h1M10 390.5h1M35 390.5h1M65 390.5h1M71 390.5h1M95 390.5h1M9 391.5h1M29 391.5h5M35 391.5h5M42 391.5h3M66 391.5h3M72 391.5h3M95 391.5h5M9 392.5h1M10 393.5h1M9 394.5h6M7 400.5h8M7 409.5h7M7 411.5h7M31 432.5h1M36 432.5h3M65 432.5h5M71 432.5h5M30 433.5h1M32 433.5h1M69 433.5h1M75 433.5h1M68 434.5h1M74 434.5h1M79 434.5h1M23 435.5h5M42 435.5h3M67 435.5h1M73 435.5h1M78 435.5h1M95 435.5h5M36 436.5h3M66 436.5h3M72 436.5h3M78 436.5h1M90 436.5h3M98 436.5h1M23 437.5h5M77 437.5h1M97 437.5h1M77 438.5h5M96 438.5h1M30 439.5h1M32 439.5h1M65 439.5h1M71 439.5h1M95 439.5h1M31 440.5h1M36 440.5h3M42 440.5h3M66 440.5h3M72 440.5h3M95 440.5h5M31 481.5h1M72 481.5h3M78 481.5h4M30 482.5h1M32 482.5h1M66 482.5h1M37 483.5h1M65 483.5h1M23 484.5h5M36 484.5h1M42 484.5h3M79 484.5h2M95 484.5h5M36 485.5h1M72 485.5h3M78 485.5h1M90 485.5h3M98 485.5h1M23 486.5h5M35 486.5h1M97 486.5h1M35 487.5h5M96 487.5h1M30 488.5h1M32 488.5h1M77 488.5h1M95 488.5h1M31 489.5h1M42 489.5h3M65 489.5h5M72 489.5h3M78 489.5h3M95 489.5h5M31 517.5h1M73 517.5h1M79 517.5h1M30 518.5h1M32 518.5h1M36 518.5h1M66 518.5h1M72 518.5h1M74 518.5h1M78 518.5h1M80 518.5h1M35 519.5h1M65 519.5h1M23 520.5h5M42 520.5h3M95 520.5h5M90 521.5h3M98 521.5h1M717 521.5h7M23 522.5h5M97 522.5h1M96 523.5h1M30 524.5h1M32 524.5h1M72 524.5h1M74 524.5h1M78 524.5h1M80 524.5h1M95 524.5h1M31 525.5h1M35 525.5h5M42 525.5h3M65 525.5h5M73 525.5h1M79 525.5h1M95 525.5h5M106 534.5h618M104 541.5h1M226 541.5h4M354 541.5h1M477 541.5h4M595 541.5h3M602 541.5h1M719 541.5h3M725 541.5h4M103 542.5h1M105 542.5h1M347 542.5h1M353 542.5h1M355 542.5h1M471 542.5h1M594 542.5h1M601 542.5h1M603 542.5h1M718 542.5h1M346 543.5h1M470 543.5h1M594 543.5h1M718 543.5h1M227 544.5h2M478 544.5h2M726 544.5h2M226 545.5h1M477 545.5h1M597 545.5h1M721 545.5h1M725 545.5h1M596 546.5h1M720 546.5h1M595 547.5h1M719 547.5h1M103 548.5h1M105 548.5h1M225 548.5h1M353 548.5h1M355 548.5h1M476 548.5h1M594 548.5h1M601 548.5h1M603 548.5h1M718 548.5h1M724 548.5h1M104 549.5h1M226 549.5h3M346 549.5h5M354 549.5h1M470 549.5h5M477 549.5h3M594 549.5h5M602 549.5h1M718 549.5h5M725 549.5h3M419 556.5h1M435 556.5h1M386 557.5h5M418 557.5h1M436 557.5h1M394 558.5h1M418 558.5h1M436 558.5h1M393 560.5h1M399 560.5h1M401 560.5h1M405 560.5h3M423 560.5h1M425 560.5h1M429 560.5h3M408 561.5h1M428 561.5h1M432 561.5h1M405 562.5h4M429 562.5h2M431 563.5h1M408 564.5h1M418 564.5h1M428 564.5h1M432 564.5h1M436 564.5h1M393 565.5h3M405 565.5h3M418 565.5h1M429 565.5h3M436 565.5h1M419 566.5h1M435 566.5h1"/><path d="M6.5 246v5M6.5 271v4M6.5 277v4M6.5 282v5M6.5 337v3M6.5 396v5M9.5 174v5M9.5 205v3M9.5 217v3M9.5 228v4M9.5 235v3M9.5 259v3M9.5 307v3M9.5 325v3M9.5 355v3M9.5 367v3M9.5 378v4M9.5 385v3M9.5 408v5M10.5 180v5M10.5 247v4M10.5 271v3M10.5 277v4M10.5 283v4M10.5 397v4M11.5 216v5M11.5 234v5M11.5 306v5M11.5 324v4M11.5 366v5M11.5 384v5M11.5 408v5M13.5 228v4M13.5 378v4M14.5 174v5M14.5 205v3M14.5 217v3M14.5 235v3M14.5 259v3M14.5 271v4M14.5 282v5M14.5 301v3M14.5 307v3M14.5 324v4M14.5 337v3M14.5 355v3M14.5 367v3M14.5 385v3M16.5 199v3M16.5 349v3M24.5 335v7M24.5 384v7M24.5 433v7M24.5 482v7M24.5 518v7M26.5 335v7M26.5 384v7M26.5 433v7M26.5 482v7M26.5 518v7M29.5 434v5M29.5 483v5M29.5 519v5M30.5 78v7M30.5 139v7M30.5 188v7M30.5 237v7M30.5 286v7M31.5 334v9M31.5 383v9M32.5 78v7M32.5 139v7M32.5 188v7M32.5 237v7M32.5 286v7M33.5 434v5M33.5 483v5M33.5 519v5M35.5 335v7M35.5 433v3M35.5 437v3M37.5 517v9M38.5 481v9M39.5 82v3M39.5 143v3M39.5 188v3M39.5 237v3M39.5 286v3M39.5 339v3M39.5 384v3M39.5 433v3M39.5 437v3M41.5 188v3M41.5 192v3M41.5 287v5M42.5 83v3M43.5 336v3M43.5 341v3M43.5 385v3M43.5 390v3M43.5 434v3M43.5 439v3M43.5 483v3M43.5 488v3M43.5 519v3M43.5 524v3M44.5 236v9M45.5 139v3M45.5 188v3M45.5 192v3M45.5 287v5M49.5 79v3M49.5 84v3M49.5 140v3M49.5 145v3M49.5 189v3M49.5 194v3M49.5 238v3M49.5 243v3M49.5 287v3M49.5 292v3M59.5 77v5M61.5 236v9M61.5 285v9M63.5 81v4M63.5 143v3M63.5 188v3M65.5 79v5M65.5 237v7M65.5 335v3M65.5 339v3M65.5 383v5M67.5 285v9M67.5 481v9M67.5 517v9M69.5 79v5M69.5 143v3M69.5 192v3M69.5 241v3M69.5 335v3M69.5 339v3M69.5 387v4M69.5 437v3M71.5 79v5M71.5 188v3M71.5 237v3M71.5 286v3M71.5 290v3M71.5 482v3M71.5 486v3M71.5 519v5M73.5 334v9M75.5 79v5M75.5 143v3M75.5 188v7M75.5 237v7M75.5 286v3M75.5 290v3M75.5 388v3M75.5 437v3M75.5 482v3M75.5 486v3M75.5 519v5M77.5 79v5M77.5 189v5M77.5 481v5M77.5 519v5M78.5 242v3M78.5 291v3M78.5 389v3M80.5 432v9M81.5 79v5M81.5 139v3M81.5 189v5M81.5 335v3M81.5 485v4M81.5 519v5M89.5 77v9M89.5 138v9M89.5 187v9M89.5 236v9M89.5 285v9M89.5 334v9M89.5 383v9M89.5 432v9M89.5 481v9M89.5 517v9M93.5 77v9M93.5 138v9M93.5 187v9M93.5 236v9M93.5 285v9M93.5 334v9M93.5 383v9M93.5 432v9M93.5 481v9M93.5 517v9M102.5 543v5M105.5 44v491M106.5 543v5M222.5 31v7M225.5 541v5M226.5 35v3M228.5 44v8M228.5 527v8M229.5 545v4M232.5 34v5M234.5 33v6M236.5 34v4M238.5 34v5M240.5 33v6M242.5 34v4M244.5 34v5M250.5 34v5M253.5 31v7M258.5 34v4M262.5 34v4M264.5 33v6M268.5 34v5M270.5 34v4M284.5 33v6M288.5 33v6M290.5 34v4M292.5 34v5M294.5 33v8M298.5 34v3M300.5 33v5M304.5 33v6M308.5 30v9M318.5 34v4M330.5 33v6M336.5 34v4M348.5 33v8M348.5 541v9M352.5 34v3M352.5 44v8M352.5 527v8M352.5 543v5M354.5 34v4M356.5 543v5M358.5 34v4M360.5 33v6M364.5 34v5M372.5 34v4M385.5 31v8M388.5 557v9M392.5 33v6M394.5 560v6M398.5 30v9M398.5 560v6M400.5 561v4M402.5 561v5M403.5 31v7M404.5 561v4M408.5 34v4M414.5 33v6M417.5 559v5M420.5 30v9M422.5 560v6M424.5 34v4M424.5 561v4M426.5 561v5M430.5 34v5M432.5 33v6M436.5 34v5M437.5 559v5M438.5 30v9M450.5 33v5M452.5 35v3M454.5 33v5M458.5 33v6M463.5 31v7M468.5 30v9M472.5 34v5M472.5 541v9M474.5 34v4M476.5 44v8M476.5 527v8M476.5 541v5M478.5 34v4M480.5 33v5M480.5 545v4M484.5 33v6M487.5 31v7M498.5 33v8M502.5 34v3M504.5 30v9M508.5 34v5M514.5 34v5M522.5 34v4M534.5 34v4M540.5 34v4M544.5 34v4M546.5 33v6M548.5 34v4M550.5 34v5M552.5 33v8M556.5 34v3M558.5 34v4M564.5 33v6M568.5 34v5M580.5 34v5M583.5 31v7M590.5 33v6M594.5 34v4M598.5 34v4M598.5 542v3M600.5 33v6M600.5 44v8M600.5 527v8M600.5 543v5M604.5 34v5M604.5 543v5M722.5 542v3M724.5 44v491M724.5 541v5M728.5 545v4"/></g>
</svg>
<div class="t" style="left:222px;top:28px;">Gammatone impulse response filterbank without phase-compensation</div>
<div class="t" style="left:386px;top:555px;">Time (ms)</div>
<div class="t" style="left:102px;top:539px;">0</div>
<div class="t" style="left:225px;top:539px;">5</div>
<div class="t" style="left:346px;top:539px;">10</div>
<div class="t" style="left:470px;top:539px;">15</div>
<div class="t" style="left:594px;top:539px;">20</div>
<div class="t" style="left:718px;top:539px;">25</div>
<div class="t" style="left:29px;top:75px;">#37: 5000 Hz</div>
<div class="t" style="left:29px;top:136px;">#32: 3332 Hz</div>
<div class="t" style="left:29px;top:185px;">#28: 2390 Hz</div>
<div class="t" style="left:29px;top:234px;">#24: 1697 Hz</div>
<div class="t" style="left:29px;top:283px;">#20: 1187 Hz</div>
<div class="t" style="left:23px;top:332px;">#16:   812 Hz</div>
<div class="t" style="left:23px;top:381px;">#12:   537 Hz</div>
<div class="t" style="left:23px;top:430px;">#08:   334 Hz</div>
<div class="t" style="left:23px;top:479px;">#04:   185 Hz</div>
<div class="t" style="left:23px;top:515px;">#01:   100 Hz</div>
<div class="t" style="left:4px;top:413px;transform-origin:0 0;transform:rotate(-90deg)"># Frequency Channel (ERB): Frequency (Hz)</div>
</div>
</body></html>
